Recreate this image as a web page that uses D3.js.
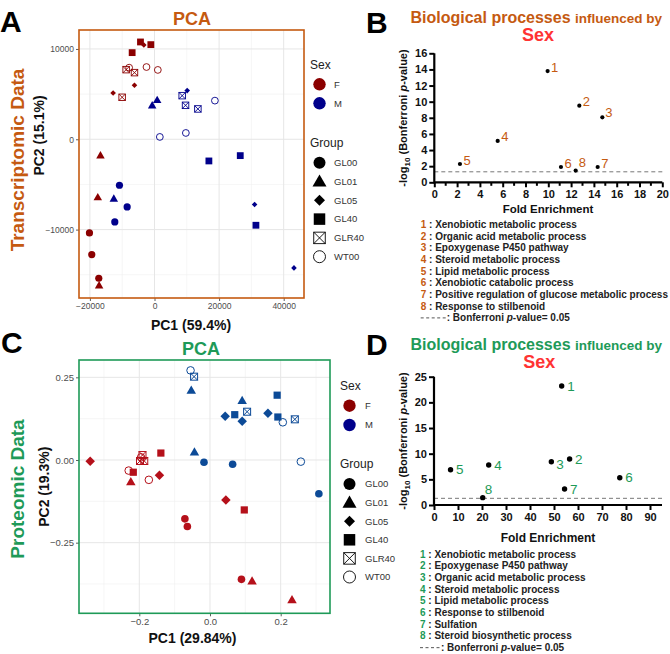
<!DOCTYPE html>
<html><head><meta charset="utf-8">
<script src="https://cdn.jsdelivr.net/npm/d3@7"></script>
<style>
body{margin:0;background:#fff}
svg{display:block}
text{font-family:"Liberation Sans",Arial,Helvetica,sans-serif}
</style>
</head><body>
<svg id="c" width="670" height="654"></svg>
<script>
// ---------------- DATA ----------------
const groups = ["GL00","GL01","GL05","GL40","GLR40","WT00"];
const sexes = ["F","M"];

// Transcriptomic PCA
const tSex = ["F","F","F","F","F","F","F","F","F","F","F","F","F","F","F","F","F","F",
              "M","M","M","M","M","M","M","M","M","M","M","M","M","M","M","M","M","M"];
const tGroup = ["GL00","GL00","GL00","GL01","GL01","GL01","GL05","GL05","GL05","GL40","GL40","GL40","GLR40","GLR40","GLR40","WT00","WT00","WT00",
                "GL00","GL00","GL00","GL01","GL01","GL01","GL05","GL05","GL05","GL40","GL40","GL40","GLR40","GLR40","GLR40","WT00","WT00","WT00"];
const tPC1 = [-20140,-19420,-17250, -16730,-17560,-17150, -3300,-6200,-12810, -4340,-6920,-1136, -8780,-6200,-10020, -7850,-2480,1030,
              -10850,-8470,-12290, 830,-720,-12600, 10120,30990,43180, 16840,26550,31400, 8570,9610,13430, 18700,1650,9710];
const tPC2 = [-10370,-12770,-15390, -1845,-6490,-16240, 10440,5980,5130, 10775,9594,10480, 7710,7380,4650, 7930,8000,7680,
              -5090,-7490,-9150, 4280,3690,-6640, 5390,-7230,-14240, -2400,-1810,-9520, 4830,3760,3360, 4280,260,700];
const tXTicks = [-20000,0,20000,40000];
const tYTicks = [-10000,0,10000];

// Proteomic PCA
const pSex = tSex;
const pGroup = tGroup;
const pPC1 = [-0.071,-0.064,0.089, -0.224,0.119,0.232, -0.339,-0.143,0.045, -0.139,-0.217,0.097, -0.191,-0.198,-0.186, -0.230,-0.173,-0.195,
              -0.017,0.064,0.308, -0.053,0.091,-0.044, 0.043,0.091,0.164, 0.070,0.190,0.192, -0.045,0.105,0.240, -0.055,0.206,0.257];
const pPC2 = [-0.178,-0.201,-0.361, -0.068,-0.368,-0.425, -0.004,-0.046,-0.121, 0.021,-0.037,-0.151, 0.015,-0.003,-0.003, -0.032,-0.060,0.008,
              -0.007,-0.013,-0.102, 0.209,0.178,0.022, 0.132,0.117,0.141, 0.137,0.196,0.130, 0.252,0.146,0.123, 0.271,0.114,-0.005];
const pXTicks = [-0.2,0.0,0.2];
const pYTicks = [-0.25,0.00,0.25];

// Enrichment (transcriptomic)
const bTerms = ["Xenobiotic metabolic process","Organic acid metabolic process","Epoxygenase P450 pathway","Steroid metabolic process",
                "Lipid metabolic process","Xenobiotic catabolic process","Positive regulation of glucose metabolic process","Response to stilbenoid"];
const bFold = [9.94,12.72,14.74,5.56,2.25,11.11,14.33,12.40];
const bLogP = [13.8,9.51,8.06,5.13,2.27,1.90,1.90,1.45];

// Enrichment (proteomic)
const dTerms = ["Xenobiotic metabolic process","Epoxygenase P450 pathway","Organic acid metabolic process","Steroid metabolic process",
                "Lipid metabolic process","Response to stilbenoid","Sulfation","Steroid biosynthetic process"];
const dFold = [53.2,56.5,48.9,22.8,6.9,77.4,54.4,20.3];
const dLogP = [23.2,8.96,8.44,7.79,6.88,5.32,3.12,1.43];

const bonferroni = 0.05;

// ---------------- STYLE ----------------
const ORANGE = "#C55A11", GREEN = "#1E9A58", SEXRED = "#FF3333";
const colA = {F:"#8B0000", M:"#00008B"};
const colC = {F:"#B5101A", M:"#0C4A97"};
const colLeg = {F:"#8B0000", M:"#00008B"};

const svg = d3.select("#c");

function shape(g, grp, x, y, col, s){
  const sw = s.sw;
  if(grp==="GL00"){
    g.append("circle").attr("cx",x).attr("cy",y).attr("r",s.circ).attr("fill",col);
  } else if(grp==="GL01"){
    const w=s.tri, h=w*0.866;
    g.append("path").attr("d",`M${x},${y-h*2/3}L${x+w/2},${y+h/3}L${x-w/2},${y+h/3}Z`).attr("fill",col);
  } else if(grp==="GL05"){
    const d=s.dia/2;
    g.append("path").attr("d",`M${x},${y-d}L${x+d},${y}L${x},${y+d}L${x-d},${y}Z`).attr("fill",col);
  } else if(grp==="GL40"){
    const d=s.sq/2;
    g.append("rect").attr("x",x-d).attr("y",y-d).attr("width",2*d).attr("height",2*d).attr("fill",col);
  } else if(grp==="GLR40"){
    const d=s.box/2;
    g.append("rect").attr("x",x-d).attr("y",y-d).attr("width",2*d).attr("height",2*d).attr("fill","none").attr("stroke",col).attr("stroke-width",sw);
    g.append("path").attr("d",`M${x-d},${y-d}L${x+d},${y+d}M${x+d},${y-d}L${x-d},${y+d}`).attr("stroke",col).attr("stroke-width",sw);
  } else {
    g.append("circle").attr("cx",x).attr("cy",y).attr("r",s.open).attr("fill","none").attr("stroke",col).attr("stroke-width",sw);
  }
}

// ---------------- PCA PANEL ----------------
function pcaPanel(o){
  const g = svg.append("g");
  const x = d3.scaleLinear().domain(o.xd).range([o.x0,o.x1]);
  const y = d3.scaleLinear().domain(o.yd).range([o.y1,o.y0]);
  const mx = [], my = [];
  for(let i=0;i<o.xt.length-1;i++) mx.push((o.xt[i]+o.xt[i+1])/2);
  mx.push(o.xt[0]-(o.xt[1]-o.xt[0])/2, o.xt[o.xt.length-1]+(o.xt[1]-o.xt[0])/2);
  for(let i=0;i<o.yt.length-1;i++) my.push((o.yt[i]+o.yt[i+1])/2);
  my.push(o.yt[0]-(o.yt[1]-o.yt[0])/2, o.yt[o.yt.length-1]+(o.yt[1]-o.yt[0])/2);
  const inX = v => x(v)>o.x0 && x(v)<o.x1, inY = v => y(v)>o.y0 && y(v)<o.y1;
  g.selectAll(".mgx").data(mx.filter(inX)).join("line").attr("x1",d=>x(d)).attr("x2",d=>x(d)).attr("y1",o.y0).attr("y2",o.y1).attr("stroke","#f0f0f0").attr("stroke-width",0.6);
  g.selectAll(".mgy").data(my.filter(inY)).join("line").attr("y1",d=>y(d)).attr("y2",d=>y(d)).attr("x1",o.x0).attr("x2",o.x1).attr("stroke","#f0f0f0").attr("stroke-width",0.6);
  g.selectAll(".gx").data(o.xt).join("line").attr("x1",d=>x(d)).attr("x2",d=>x(d)).attr("y1",o.y0).attr("y2",o.y1).attr("stroke","#e6e6e6").attr("stroke-width",1);
  g.selectAll(".gy").data(o.yt).join("line").attr("y1",d=>y(d)).attr("y2",d=>y(d)).attr("x1",o.x0).attr("x2",o.x1).attr("stroke","#e6e6e6").attr("stroke-width",1);
  const ax = g.append("g").attr("transform",`translate(0,${o.y1})`).call(d3.axisBottom(x).tickValues(o.xt).tickSize(3).tickPadding(2).tickFormat(o.xf));
  const ay = g.append("g").attr("transform",`translate(${o.x0},0)`).call(d3.axisLeft(y).tickValues(o.yt).tickSize(3).tickPadding(2).tickFormat(o.yf));
  [ax,ay].forEach(a=>{
    a.select(".domain").remove();
    a.selectAll("line").attr("stroke","#333").attr("stroke-width",0.8);
    a.selectAll("text").attr("fill","#4d4d4d").style("font-size",o.tfs+"px").style("font-family","'Liberation Sans',Arial,sans-serif");
  });
  const pg = g.append("g");
  o.px.forEach((v,i)=> shape(pg, o.grp[i], x(v), y(o.py[i]), o.col[o.sex[i]], o.sz));
  g.append("rect").attr("x",o.x0).attr("y",o.y0).attr("width",o.x1-o.x0).attr("height",o.y1-o.y0).attr("fill","none").attr("stroke",o.border).attr("stroke-width",1.6);
  g.append("text").attr("x",o.titleX).attr("y",o.titleY).attr("dy","0.35em").attr("text-anchor","middle").attr("fill",o.border).style("font-size","18px").style("font-weight","bold").text("PCA");
  g.append("text").attr("x",o.xlabX).attr("y",o.xlabY).attr("dy","0.35em").attr("text-anchor","middle").attr("fill","#111").style("font-size","14px").style("font-weight","bold").text(o.xlab);
  g.append("text").attr("transform",`translate(${o.ylabX},${o.ylabY}) rotate(-90)`).attr("dy","0.35em").attr("text-anchor","middle").attr("fill","#111").style("font-size","14px").style("font-weight","bold").text(o.ylab);
  g.append("text").attr("transform",`translate(${o.sideX},${o.sideY}) rotate(-90)`).attr("dy","0.35em").attr("text-anchor","middle").attr("fill",o.border).style("font-size","19px").style("font-weight","bold").text(o.side);
  const L = o.leg;
  const lg = g.append("g");
  lg.append("text").attr("x",L.tx).attr("y",L.sexY).attr("dy","0.35em").attr("fill","#222").style("font-size","12px").text("Sex");
  sexes.forEach((s,i)=>{
    lg.append("circle").attr("cx",L.kx).attr("cy",L.sexK[i]).attr("r",6.2).attr("fill",colLeg[s]);
    lg.append("text").attr("x",L.lx).attr("y",L.sexK[i]).attr("dy","0.35em").attr("fill","#333").style("font-size","9.5px").text(s);
  });
  lg.append("text").attr("x",L.tx).attr("y",L.grpY).attr("dy","0.35em").attr("fill","#222").style("font-size","12px").text("Group");
  groups.forEach((gname,i)=>{
    const yy = L.grpK0 + i*L.grpStep;
    shape(lg, gname, L.kx, yy + (gname==="GL01"?1:0), "#000", {circ:6,tri:14,dia:11,sq:11.5,box:11.5,open:6,sw:0.9});
    lg.append("text").attr("x",L.lx).attr("y",yy).attr("dy","0.35em").attr("fill","#333").style("font-size","9.5px").text(gname);
  });
  g.append("text").attr("x",o.letX).attr("y",o.letY).attr("fill","#000").style("font-size","30px").style("font-weight","bold").text(o.letter);
}

pcaPanel({x0:79,x1:304,y0:30,y1:298, xd:[-23375,46285], yd:[-17575,12100],
  xt:tXTicks, yt:tYTicks, xf:d3.format("d"), yf:d3.format("d"), tfs:8.5,
  px:tPC1, py:tPC2, grp:tGroup, sex:tSex, col:colA,
  sz:{circ:3.6,tri:8.5,dia:5.6,sq:6.8,box:6.5,open:3.4,sw:0.9},
  border:ORANGE, titleX:192, titleY:18.5, xlab:"PC1 (59.4%)", xlabX:191, xlabY:325,
  ylab:"PC2 (15.1%)", ylabX:39, ylabY:135.5, side:"Transcriptomic Data", sideX:17, sideY:160,
  leg:{tx:310, lx:334, kx:319.5, sexY:64.5, sexK:[84.3,103.3], grpY:142.5, grpK0:162.7, grpStep:18.8},
  letter:"A", letX:0, letY:32});

pcaPanel({x0:79,x1:330,y0:360,y1:613.3, xd:[-0.3706,0.3395], yd:[-0.4636,0.3024],
  xt:pXTicks, yt:pYTicks, xf:d3.format(".1f"), yf:d3.format(".2f"), tfs:9.5,
  px:pPC1, py:pPC2, grp:pGroup, sex:pSex, col:colC,
  sz:{circ:3.8,tri:9.5,dia:9.5,sq:7.2,box:7,open:3.8,sw:1},
  border:GREEN, titleX:201, titleY:348.3, xlab:"PC1 (29.84%)", xlabX:192.5, xlabY:638.3,
  ylab:"PC2 (19.3%)", ylabX:44, ylabY:486.7, side:"Proteomic Data", sideX:17, sideY:489,
  leg:{tx:340, lx:365, kx:349.5, sexY:385.7, sexK:[405.7,425], grpY:464, grpK0:484, grpStep:18.6},
  letter:"C", letX:1, letY:353});

// ---------------- ENRICHMENT PANEL ----------------
function enrichPanel(o){
  const g = svg.append("g");
  const x = d3.scaleLinear().domain(o.xd).range([o.x0,o.x1]);
  const y = d3.scaleLinear().domain(o.yd).range([o.y1,o.y0]);
  const thr = -Math.log10(bonferroni);
  g.append("line").attr("x1",o.x0).attr("x2",o.x1).attr("y1",y(thr)).attr("y2",y(thr)).attr("stroke","#777").attr("stroke-width",1).attr("stroke-dasharray","4,3");
  const ax = g.append("g").attr("transform",`translate(0,${o.y1})`).call(d3.axisBottom(x).tickValues(o.xt).tickSize(5).tickPadding(3).tickFormat(d3.format("d")));
  const ay = g.append("g").attr("transform",`translate(${o.x0},0)`).call(d3.axisLeft(y).tickValues(o.yt).tickSize(5).tickPadding(2).tickFormat(d3.format("d")));
  [ax,ay].forEach(a=>{
    a.select(".domain").remove();
    a.selectAll("line").attr("stroke","#000").attr("stroke-width",2);
    a.selectAll("text").attr("fill","#111").style("font-size","11px").style("font-weight","bold").style("font-family","'Liberation Sans',Arial,sans-serif");
  });
  if(o.minor){
    g.selectAll(".mt").data(o.minor).join("line").attr("x1",d=>x(d)).attr("x2",d=>x(d)).attr("y1",o.y1).attr("y2",o.y1+3.5).attr("stroke","#000").attr("stroke-width",2);
  }
  g.append("line").attr("x1",o.x0).attr("x2",o.x1).attr("y1",o.y1).attr("y2",o.y1).attr("stroke","#000").attr("stroke-width",2.2);
  g.append("line").attr("x1",o.x0).attr("x2",o.x0).attr("y1",o.y0).attr("y2",o.y1+1).attr("stroke","#000").attr("stroke-width",2.2);
  o.fx.forEach((v,i)=>{
    g.append("circle").attr("cx",x(v)).attr("cy",y(o.fy[i])).attr("r",o.r).attr("fill","#000");
    const off = o.off(i);
    g.append("text").attr("x",x(v)+off[0]).attr("y",y(o.fy[i])+off[1]).attr("dy","0.35em").attr("fill",o.accent).style("font-size",o.lfs+"px").text(i+1);
  });
  g.append("text").attr("x",o.xlabX).attr("y",o.xlabY).attr("dy","0.35em").attr("text-anchor","middle").attr("fill","#111").style("font-size",o.xlfs+"px").style("font-weight","bold").text("Fold Enrichment");
  const yt = g.append("text").attr("transform",`translate(${o.ylabX},${o.ylabY}) rotate(-90)`).attr("dy","0.35em").attr("text-anchor","middle").attr("fill","#111").style("font-size","11px").style("font-weight","bold");
  yt.append("tspan").text("-log");
  yt.append("tspan").attr("dy","3").style("font-size","8px").text("10");
  yt.append("tspan").attr("dy","-3").text(" (Bonferroni ");
  yt.append("tspan").style("font-style","italic").text("p");
  yt.append("tspan").text("-value)");
  const t = g.append("text").attr("x",o.ttlX).attr("y",o.ttlY).attr("dy","0.35em").attr("fill",o.accent).style("font-weight","bold");
  t.append("tspan").style("font-size","16px").text("Biological processes ");
  t.append("tspan").style("font-size","13.5px").text("influenced by");
  g.append("text").attr("x",o.sexX).attr("y",o.sexY).attr("dy","0.35em").attr("text-anchor","middle").attr("fill",SEXRED).style("font-size","18px").style("font-weight","bold").text("Sex");
  g.append("text").attr("x",o.letX).attr("y",o.letY).attr("fill","#000").style("font-size","30px").style("font-weight","bold").text(o.letter);
  o.terms.forEach((term,i)=>{
    const tt = g.append("text").attr("x",o.lx).attr("y",o.ly0+i*o.lstep).attr("dy","0.35em").style("font-size","10px").style("font-weight","bold").attr("fill","#222");
    tt.append("tspan").attr("fill",o.accent).text(i+1);
    tt.append("tspan").text(" : "+term);
  });
  const yl = o.ly0+o.terms.length*o.lstep;
  g.append("line").attr("x1",o.lx).attr("x2",o.lx+o.dashW).attr("y1",yl).attr("y2",yl).attr("stroke","#555").attr("stroke-width",1).attr("stroke-dasharray","3,2.5");
  const bt = g.append("text").attr("x",o.lx+o.dashW+1).attr("y",yl).attr("dy","0.35em").style("font-size","10px").style("font-weight","bold").attr("fill","#222");
  bt.append("tspan").text(": Bonferroni ");
  bt.append("tspan").style("font-style","italic").text("p");
  bt.append("tspan").text("-value= 0.05");
}

enrichPanel({x0:434.3,x1:662.3,y0:53.3,y1:182.3, xd:[0,20], yd:[0,16],
  xt:d3.range(0,21,2), yt:d3.range(0,17,2), minor:d3.range(1,20,2),
  fx:bFold, fy:bLogP, r:2.1, accent:ORANGE, lfs:13,
  off:i=> i===7 ? [3,-8] : (i===2 ? [3,-5] : [3.5,-4]),
  xlabX:548, xlabY:209, xlfs:11.5, ylabX:403, ylabY:118,
  ttlX:410.5, ttlY:17.3, sexX:538, sexY:34.8, letX:366, letY:33, letter:"B",
  terms:bTerms, lx:420.7, ly0:224.3, lstep:11.7, dashW:25});

enrichPanel({x0:434,x1:662,y0:376.7,y1:505, xd:[0,95], yd:[0,25],
  xt:d3.range(0,91,10), yt:d3.range(0,26,5), minor:null,
  fx:dFold, fy:dLogP, r:2.7, accent:GREEN, lfs:13.5,
  off:i=> i===7 ? [2,-8.5] : (i===2 ? [5,2.5] : [5.5,0]),
  xlabX:548, xlabY:537.7, xlfs:12, ylabX:402.7, ylabY:441,
  ttlX:410.5, ttlY:344.5, sexX:539.3, sexY:362, letX:366, letY:355, letter:"D",
  terms:dTerms, lx:420, ly0:554.3, lstep:11.67, dashW:20});
</script>
</body></html>
